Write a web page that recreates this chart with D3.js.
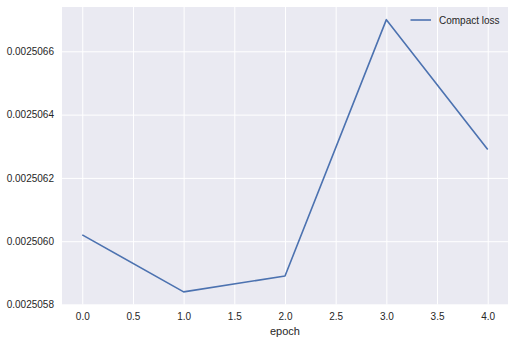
<!DOCTYPE html>
<html><head><meta charset="utf-8">
<script src="https://cdn.jsdelivr.net/npm/d3@7"></script>
<style>body{margin:0;background:#fff}svg{display:block;font-family:"Liberation Sans",Arial,sans-serif}</style>
</head><body><svg id="c" width="515" height="344"></svg>
<script>
const epochs = [0, 1, 2, 3, 4];
const compactLoss = [0.00250602, 0.00250584, 0.00250589, 0.00250670, 0.00250629];
const xTicks = [0, 0.5, 1, 1.5, 2, 2.5, 3, 3.5, 4];
const yTicks = [0.0025058, 0.0025060, 0.0025062, 0.0025064, 0.0025066];
const seriesName = "Compact loss";
const xLabel = "epoch";

const svg = d3.select("#c");
const L = 62, R = 508, T = 7, B = 304.5;
const x = d3.scaleLinear().domain([-0.2, 4.2]).range([L, R]);
const y = d3.scaleLinear().domain([0.0025058, 0.00250674]).range([B, T]);

svg.append("rect").attr("x", L).attr("y", T).attr("width", R - L).attr("height", B - T).attr("fill", "#EAEAF2");

const gx = svg.append("g").attr("transform", `translate(0,${B})`)
  .call(d3.axisBottom(x).tickValues(xTicks).tickFormat(d3.format(".1f")).tickSize(-(B - T)).tickPadding(8));
const gy = svg.append("g").attr("transform", `translate(${L},0)`)
  .call(d3.axisLeft(y).tickValues(yTicks).tickFormat(d3.format(".7f")).tickSize(-(R - L)).tickPadding(8));
[gx, gy].forEach(g => {
  g.select(".domain").remove();
  g.selectAll(".tick line").attr("stroke", "#fff").attr("stroke-width", 1);
  g.selectAll(".tick text").attr("fill", "#262626").attr("font-size", "10px");
});

const line = d3.line().x((d, i) => x(epochs[i])).y(d => y(d));
svg.append("path").datum(compactLoss).attr("d", line)
  .attr("fill", "none").attr("stroke", "#4C72B0").attr("stroke-width", 1.6).attr("stroke-linejoin", "round");

svg.append("text").attr("x", (L + R) / 2).attr("y", 335).attr("text-anchor", "middle")
  .attr("fill", "#262626").attr("font-size", "11px").text(xLabel);

const lg = svg.append("g");
lg.append("line").attr("x1", 410.5).attr("x2", 431).attr("y1", 20).attr("y2", 20)
  .attr("stroke", "#4C72B0").attr("stroke-width", 1.6);
lg.append("text").attr("x", 439).attr("y", 23.5).attr("fill", "#262626").attr("font-size", "10px").text(seriesName);
</script></body></html>
